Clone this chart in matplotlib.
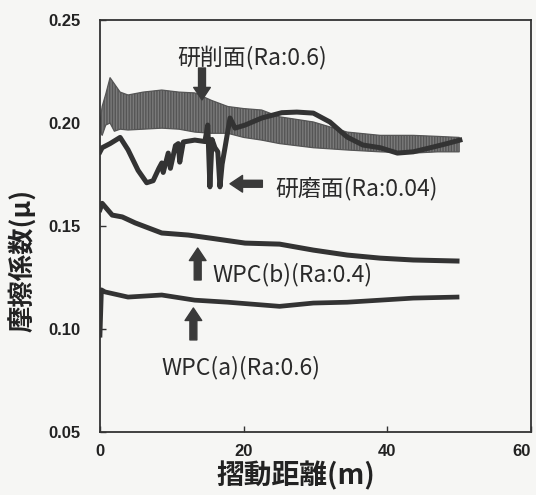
import matplotlib
matplotlib.use('Agg')
import matplotlib.pyplot as plt

# friction coefficient vs sliding distance

# 研削面 (Ra:0.6) - noisy band, upper / lower envelope
grind_x = [0, 0.3, 0.8, 1.4, 2.0, 2.8, 3.9, 6.0, 8.6, 11.0, 13.2, 15.5, 17.8, 20.0,
           22.5, 25.0, 29.7, 34.4, 39.0, 43.6, 47.0, 50.0]
grind_top = [0.200, 0.208, 0.214, 0.222, 0.219, 0.215, 0.2136, 0.215, 0.216, 0.215,
             0.2146, 0.211, 0.208, 0.207, 0.2063, 0.203, 0.2005, 0.1956, 0.194,
             0.194, 0.1935, 0.193]
grind_bot = [0.196, 0.194, 0.199, 0.200, 0.196, 0.197, 0.1966, 0.197, 0.1975, 0.197,
             0.1956, 0.195, 0.195, 0.193, 0.1917, 0.190, 0.188, 0.1869, 0.186,
             0.1854, 0.186, 0.186]

# 研磨面 (Ra:0.04)
polish_x = [0, 0.3, 1.4, 2.8, 3.9, 5.3, 6.5, 7.4, 8.2, 8.6, 8.8, 9.5, 9.8, 10.5,
            10.9, 11.1, 11.6, 13.2, 14.6, 15.0, 15.3, 15.6, 16.0, 16.4, 16.7, 17.0,
            17.4, 18.1, 18.8, 20.2, 22.5, 25.3, 27.4, 29.7, 32.0, 34.4, 36.6, 39.0,
            41.4, 43.6, 46.0, 48.3, 50.1]
polish_y = [0.186, 0.188, 0.190, 0.193, 0.187, 0.177, 0.171, 0.172, 0.178, 0.1806,
            0.176, 0.1854, 0.178, 0.189, 0.190, 0.181, 0.1908, 0.1917, 0.191, 0.199,
            0.169, 0.192, 0.188, 0.186, 0.169, 0.180, 0.188, 0.2024, 0.1975, 0.199,
            0.2024, 0.205, 0.2053, 0.2048, 0.2005, 0.1932, 0.1893, 0.188, 0.1854,
            0.186, 0.188, 0.190, 0.1917]

# WPC(b) (Ra:0.4)
wpcb_x = [0, 0.3, 1.7, 3.1, 4.9, 8.6, 12.3, 15.6, 20.2, 25.0, 29.7, 34.4, 39.0, 43.6, 49.7]
wpcb_y = [0.158, 0.161, 0.1553, 0.1544, 0.1515, 0.1466, 0.1456, 0.144, 0.1417,
          0.1412, 0.1383, 0.1359, 0.1344, 0.1335, 0.133]

# WPC(a) (Ra:0.6)
wpca_x = [0, 0.2, 0.7, 3.9, 8.6, 13.2, 17.8, 25.0, 29.7, 34.4, 39.0, 43.6, 49.7]
wpca_y = [0.097, 0.119, 0.118, 0.1155, 0.1165, 0.114, 0.113, 0.111, 0.1126, 0.113,
          0.114, 0.115, 0.1155]

xticks = [0, 20, 40, 60]
yticks = [0.05, 0.10, 0.15, 0.20, 0.25]
ytick_labels = ['0.05', '0.10', '0.15', '0.20', '0.25']

# labels: (text, x, y)  arrows: (tail, tip)
labels = [('研削面(Ra:0.6)', 10.7, 0.232),
          ('研磨面(Ra:0.04)', 24.4, 0.1684),
          ('WPC(b)(Ra:0.4)', 15.7, 0.1262),
          ('WPC(a)(Ra:0.6)', 8.6, 0.0815)]
arrows = [((14.2, 0.2267), (14.2, 0.2112)),
          ((22.6, 0.1705), (18.1, 0.1705)),
          ((13.6, 0.1238), (13.6, 0.1393)),
          ((13.0, 0.0947), (13.0, 0.1102))]

cjk = ['Noto Sans CJK JP', 'DejaVu Sans']
bg = '#f6f6f4'
ink = '#333333'

fig = plt.figure(figsize=(5.36, 4.95), dpi=100, facecolor=bg)
ax = fig.add_axes([100/536, 1 - 432/495, 431/536, 412/495], facecolor=bg)

ax.fill_between(grind_x, grind_bot, grind_top, facecolor='#7a7a7a',
                edgecolor='#555555', hatch='||||||', linewidth=0.9, zorder=2)
ax.plot(polish_x, polish_y, color=ink, lw=3.6, solid_joinstyle='round', zorder=3)
ax.plot(wpcb_x, wpcb_y, color=ink, lw=3.6, zorder=3)
ax.plot(wpca_x, wpca_y, color=ink, lw=3.4, zorder=3)

for txt, x, y in labels:
    ax.text(x, y, txt, family=cjk, fontsize=16.5, color='#2a2a2a',
            ha='left', va='center', zorder=4)
for tail, tip in arrows:
    ax.annotate('', xy=tip, xytext=tail,
                arrowprops=dict(width=5, headwidth=12, headlength=9,
                                shrink=0, facecolor='#3a3a3a', edgecolor='#3a3a3a'),
                zorder=4)

ax.set_xlim(0, 60)
ax.set_ylim(0.05, 0.25)
ax.set_xticks(xticks)
ax.set_yticks(yticks)
ax.set_yticklabels(ytick_labels)
for lab in ax.get_xticklabels() + ax.get_yticklabels():
    lab.set_family('Liberation Sans')
    lab.set_fontweight('bold')
    lab.set_fontsize(12)
    lab.set_color('#222222')
ax.tick_params(axis='y', direction='in', length=4, width=1, pad=14, colors=ink,
               labelcolor='#222222')
ax.tick_params(axis='x', direction='in', length=4, width=1, pad=9, colors=ink,
               labelcolor='#222222')
# last x label sits against the right edge of the figure
ax.get_xticklabels()[-1].set_horizontalalignment('right')
for s in ax.spines.values():
    s.set_linewidth(1.3)
    s.set_color(ink)

fig.text(23/536, 1 - 260/495, '摩擦係数(μ)', family=cjk, fontsize=19,
         fontweight='bold', rotation=90, ha='center', va='center', color='#222222')
fig.text(296/536, 1 - 476/495, '摺動距離(m)', family=cjk, fontsize=20,
         fontweight='bold', ha='center', va='center', color='#222222')

fig.savefig('out.png', dpi=100, facecolor=bg)
